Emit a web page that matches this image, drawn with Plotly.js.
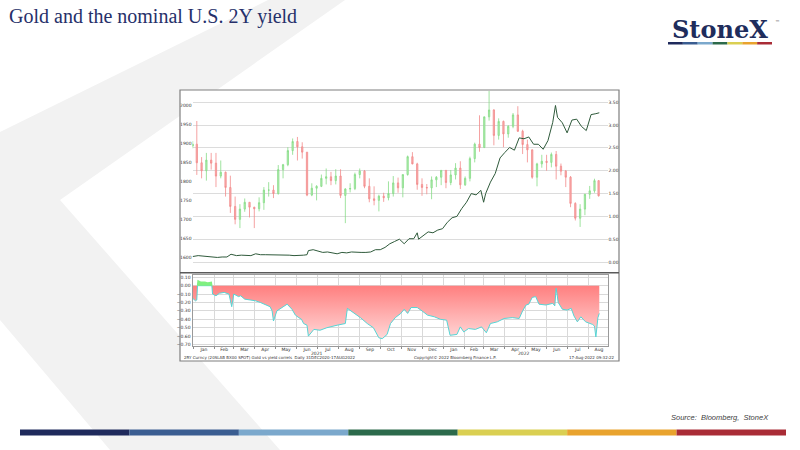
<!DOCTYPE html>
<html>
<head>
<meta charset="utf-8">
<script src="https://cdn.plot.ly/plotly-3.0.1.min.js"></script>
<style>
  html, body { margin: 0; padding: 0; background: #ffffff; }
  #chart { width: 800px; height: 450px; }
</style>
</head>
<body>
<div id="chart"></div>
<script>
// ---- data ----
// gold spot, weekly candles (plotted at mid-week)
const goldDates = ['2020-12-31',
  '2021-01-06','2021-01-13','2021-01-20','2021-01-27','2021-02-03','2021-02-10','2021-02-17','2021-02-24',
  '2021-03-03','2021-03-10','2021-03-17','2021-03-24','2021-03-31','2021-04-07','2021-04-14','2021-04-21',
  '2021-04-28','2021-05-05','2021-05-12','2021-05-19','2021-05-26','2021-06-02','2021-06-09','2021-06-16',
  '2021-06-23','2021-06-30','2021-07-07','2021-07-14','2021-07-21','2021-07-28','2021-08-04','2021-08-11',
  '2021-08-18','2021-08-25','2021-09-01','2021-09-08','2021-09-15','2021-09-22','2021-09-29','2021-10-06',
  '2021-10-13','2021-10-20','2021-10-27','2021-11-03','2021-11-10','2021-11-17','2021-11-24','2021-12-01',
  '2021-12-08','2021-12-15','2021-12-22','2021-12-29',
  '2022-01-05','2022-01-12','2022-01-19','2022-01-26','2022-02-02','2022-02-09','2022-02-16','2022-02-23',
  '2022-03-02','2022-03-09','2022-03-16','2022-03-23','2022-03-30','2022-04-06','2022-04-13','2022-04-20',
  '2022-04-27','2022-05-04','2022-05-11','2022-05-18','2022-05-25','2022-06-01','2022-06-08','2022-06-15',
  '2022-06-22','2022-06-29','2022-07-06','2022-07-13','2022-07-20','2022-07-27','2022-08-03','2022-08-10',
  '2022-08-16'];
const goldOpen = [1893,
  1898,1849,1828,1856,1848,1814,1824,1784, 1734,1700,1727,1745,1732,1728,1744,1777,
  1777,1768,1831,1844,1881,1905,1891,1877, 1764,1782,1787,1808,1812,1802,1814,1763,
  1780,1781,1818,1827,1787,1754,1750,1761, 1757,1768,1796,1783,1818,1865,1846,1792,
  1784,1783,1804,1811,
  1829,1797,1817,1835,1791,1808,1860,1898, 1889,1970,1988,1921,1958,1925,1945,1975,
  1932,1897,1883,1811,1846,1853,1850,1871, 1840,1827,1811,1742,1703,1727,1766,1775,
  1802];
const goldHigh = [1906,
  1959,1864,1875,1875,1875,1855,1826,1815, 1760,1740,1755,1745,1733,1758,1785,1798,
  1790,1843,1846,1890,1913,1917,1903,1877, 1795,1790,1818,1834,1825,1832,1832,1782,
  1795,1823,1834,1830,1808,1787,1765,1770, 1800,1814,1810,1818,1868,1877,1849,1808,
  1793,1813,1814,1830,
  1830,1830,1848,1853,1813,1865,1902,1974, 1970,2070,1990,1966,1960,1948,1980,1998,
  1936,1910,1884,1849,1870,1870,1876,1880, 1847,1830,1814,1745,1740,1767,1788,1807,
  1802];
const goldLow = [1887,
  1817,1808,1802,1831,1785,1808,1760,1717, 1687,1677,1720,1705,1677,1721,1725,1760,
  1756,1765,1808,1840,1870,1855,1860,1761, 1761,1750,1785,1792,1790,1792,1756,1690,
  1771,1777,1808,1782,1745,1737,1721,1746, 1750,1760,1770,1758,1815,1845,1778,1762,
  1766,1753,1785,1790,
  1782,1790,1805,1780,1788,1800,1850,1878, 1889,1960,1895,1910,1890,1915,1940,1930,
  1872,1850,1807,1787,1836,1828,1837,1805, 1816,1785,1732,1697,1680,1711,1754,1770,
  1760];
const goldClose = [1898,
  1849,1828,1856,1848,1814,1824,1784,1734, 1700,1727,1745,1732,1728,1744,1777,1777,
  1768,1831,1844,1881,1905,1891,1877,1764, 1782,1787,1808,1812,1802,1814,1763,1780,
  1781,1818,1827,1787,1754,1750,1761,1757, 1768,1796,1783,1818,1865,1846,1792,1784,
  1783,1804,1811,1829,
  1797,1817,1835,1791,1808,1860,1898,1889, 1970,1988,1921,1958,1925,1945,1975,1932,
  1897,1883,1811,1846,1853,1850,1871,1840, 1827,1811,1742,1703,1727,1766,1775,1802,
  1762];

// nominal U.S. 2Y yield (right axis)
const yieldDates = ['2020-12-31','2021-01-08','2021-01-15','2021-01-22','2021-01-29','2021-02-05','2021-02-12',
  '2021-02-19','2021-02-25','2021-03-05','2021-03-12','2021-03-19','2021-03-26','2021-04-02','2021-04-09',
  '2021-04-16','2021-04-23','2021-04-30','2021-05-07','2021-05-14','2021-05-21','2021-05-28','2021-06-04',
  '2021-06-11','2021-06-16','2021-06-18','2021-06-25','2021-07-02','2021-07-09','2021-07-16','2021-07-23',
  '2021-07-30','2021-08-06','2021-08-13','2021-08-20','2021-08-27','2021-09-03','2021-09-10','2021-09-17',
  '2021-09-24','2021-10-01','2021-10-08','2021-10-15','2021-10-22','2021-10-29','2021-11-05','2021-11-12',
  '2021-11-19','2021-11-24','2021-11-26','2021-12-03','2021-12-10','2021-12-17','2021-12-24','2021-12-31',
  '2022-01-07','2022-01-14','2022-01-21','2022-01-28','2022-02-04','2022-02-11','2022-02-18','2022-02-25',
  '2022-03-01','2022-03-04','2022-03-11','2022-03-18','2022-03-25','2022-04-01','2022-04-08','2022-04-15',
  '2022-04-22','2022-04-29','2022-05-06','2022-05-13','2022-05-20','2022-05-27','2022-06-03','2022-06-10',
  '2022-06-14','2022-06-17','2022-06-24','2022-07-01','2022-07-08','2022-07-15','2022-07-22','2022-07-29',
  '2022-08-05','2022-08-12','2022-08-17'];
const yieldValues = [0.12,0.14,0.13,0.12,0.11,0.10,0.11,
  0.11,0.17,0.14,0.15,0.15,0.14,0.18,0.16,
  0.16,0.16,0.16,0.15,0.15,0.15,0.14,0.14,
  0.15,0.16,0.25,0.27,0.24,0.21,0.22,0.20,
  0.18,0.21,0.20,0.22,0.21,0.21,0.21,0.22,
  0.27,0.27,0.32,0.40,0.45,0.50,0.40,0.51,
  0.51,0.64,0.50,0.59,0.66,0.64,0.70,0.73,
  0.87,0.97,1.00,1.17,1.31,1.50,1.47,1.57,
  1.31,1.50,1.75,1.94,2.28,2.40,2.51,2.45,
  2.72,2.70,2.74,2.58,2.58,2.47,2.66,3.06,
  3.43,3.17,3.05,2.83,3.11,3.13,2.97,2.88,
  3.23,3.25,3.27];

// gold vs yield correlation (lower panel)
const corrDates = ['2020-12-31','2021-01-04','2021-01-06','2021-01-07','2021-01-12','2021-01-18','2021-01-22',
  '2021-01-28','2021-01-29','2021-02-03','2021-02-08','2021-02-15','2021-02-22','2021-02-26','2021-03-01',
  '2021-03-08','2021-03-11','2021-03-17','2021-03-25','2021-04-02','2021-04-09','2021-04-16','2021-04-23',
  '2021-04-26','2021-04-28','2021-05-03','2021-05-08','2021-05-13','2021-05-18','2021-05-25','2021-05-30',
  '2021-06-04','2021-06-08','2021-06-11','2021-06-16','2021-06-18','2021-06-26','2021-07-05','2021-07-15',
  '2021-07-30','2021-08-11','2021-08-14','2021-08-23','2021-09-02','2021-09-12','2021-09-21','2021-09-29',
  '2021-10-04','2021-10-11','2021-10-16','2021-10-23','2021-10-31','2021-11-05','2021-11-10','2021-11-15',
  '2021-11-24','2021-12-01','2021-12-09','2021-12-19','2021-12-28','2022-01-06','2022-01-11','2022-01-21',
  '2022-01-26','2022-01-31','2022-02-07','2022-02-17','2022-02-26','2022-03-05','2022-03-11','2022-03-21',
  '2022-03-31','2022-04-12','2022-04-22','2022-04-27','2022-05-02','2022-05-06','2022-05-11','2022-05-16',
  '2022-05-21','2022-05-31','2022-06-10','2022-06-13','2022-06-15','2022-06-18','2022-06-24','2022-07-01',
  '2022-07-07','2022-07-11','2022-07-16','2022-07-21','2022-07-28','2022-08-07','2022-08-10','2022-08-12',
  '2022-08-15','2022-08-17'];
const corrValues = [-0.15,-0.18,-0.17,0.07,0.05,0.05,0.04,
  0.05,-0.10,-0.12,-0.09,-0.08,-0.10,-0.25,-0.10,
  -0.13,-0.12,-0.16,-0.17,-0.18,-0.20,-0.23,-0.25,
  -0.30,-0.42,-0.30,-0.27,-0.25,-0.22,-0.28,-0.35,
  -0.38,-0.40,-0.45,-0.47,-0.60,-0.52,-0.53,-0.50,
  -0.47,-0.45,-0.27,-0.32,-0.38,-0.45,-0.50,-0.62,
  -0.63,-0.58,-0.45,-0.38,-0.33,-0.28,-0.33,-0.26,
  -0.26,-0.30,-0.35,-0.37,-0.40,-0.41,-0.59,-0.58,
  -0.49,-0.55,-0.51,-0.52,-0.49,-0.56,-0.45,-0.43,
  -0.39,-0.38,-0.39,-0.30,-0.23,-0.22,-0.14,-0.13,
  -0.22,-0.23,-0.21,-0.24,-0.03,-0.20,-0.28,-0.29,
  -0.27,-0.36,-0.43,-0.37,-0.43,-0.46,-0.48,-0.61,
  -0.38,-0.33];

const goldTicks = [1600, 1650, 1700, 1750, 1800, 1850, 1900, 1950, 2000];
const yieldTicks = [0, 0.5, 1, 1.5, 2, 2.5, 3, 3.5];
const corrTicks = [-0.7, -0.6, -0.5, -0.4, -0.3, -0.2, -0.1, 0, 0.1];
const yearLabels = ['2021', '2022'];
const yearPos = ['2021-07-01', '2022-04-29'];
const logoColors = ['#1f2a5c', '#3a5d91', '#7ba8cc', '#2c6a4b', '#dacf52', '#e9a32e', '#a92c36'];

// ---- helpers: page pixels -> paper fractions ----
const W = 800, H = 450;
const px = x => x / W;
const py = y => 1 - y / H;
function poly(pts) {
  return 'M' + pts.map(p => px(p[0]).toFixed(4) + ',' + py(p[1]).toFixed(4)).join(' L') + ' Z';
}

const xRange = ['2020-12-30 17:00', '2022-08-29'];
const xDom = [px(192.5), px(607.5)];
const tickFont = {family: 'DejaVu Sans', size: 4.5, color: '#333333'};

const negVals = corrValues.map(v => Math.min(v, 0));
const posVals = corrValues.map(v => Math.max(v, 0));

const traces = [
  {
    type: 'candlestick',
    x: goldDates, open: goldOpen, high: goldHigh, low: goldLow, close: goldClose,
    xaxis: 'x', yaxis: 'y',
    increasing: {line: {color: '#86dc86', width: 0.8}, fillcolor: '#b4eeb4'},
    decreasing: {line: {color: '#f28a8a', width: 0.8}, fillcolor: '#f8b0b0'},
    showlegend: false, hoverinfo: 'skip'
  },
  {
    type: 'scatter', mode: 'lines',
    x: yieldDates, y: yieldValues,
    xaxis: 'x', yaxis: 'y3',
    line: {color: '#2f5a3b', width: 1},
    showlegend: false, hoverinfo: 'skip'
  },
  {
    type: 'scatter', mode: 'lines',
    x: corrDates, y: negVals,
    xaxis: 'x2', yaxis: 'y2',
    fill: 'tozeroy',
    fillgradient: {type: 'vertical', start: -0.72, stop: 0,
      colorscale: [[0, '#ffe4e4'], [1, '#ff7f7f']]},
    line: {color: '#55d5d5', width: 1},
    showlegend: false, hoverinfo: 'skip'
  },
  {
    type: 'scatter', mode: 'lines',
    x: corrDates, y: posVals,
    xaxis: 'x2', yaxis: 'y2',
    fill: 'tozeroy', fillcolor: '#80f080',
    line: {color: '#80f080', width: 0},
    showlegend: false, hoverinfo: 'skip'
  }
];

const shapes = [
  // grey chevron in the background
  {type: 'path', xref: 'paper', yref: 'paper', layer: 'below',
   path: poly([[268, 0], [345, 0], [60, 200], [280, 450], [110, 450], [0, 320], [0, 132]]),
   fillcolor: '#f2f2f2', line: {width: 0}},
  // white chart card
  {type: 'rect', xref: 'paper', yref: 'paper', layer: 'below',
   x0: px(180), x1: px(619), y0: py(361), y1: py(90),
   fillcolor: '#ffffff', line: {width: 0}},
  {type: 'rect', xref: 'paper', yref: 'paper', layer: 'above',
   x0: px(180), x1: px(619), y0: py(361), y1: py(90),
   line: {color: '#7f7f7f', width: 1.2}},
  {type: 'line', xref: 'paper', yref: 'paper', layer: 'above',
   x0: px(180), x1: px(619), y0: py(272.7), y1: py(272.7),
   line: {color: '#5a5a5a', width: 1.5}}
];

// colour strip under the logo and along the bottom of the slide
logoColors.forEach((c, i) => {
  const lw = (772 - 668) / logoColors.length;
  shapes.push({type: 'rect', xref: 'paper', yref: 'paper', layer: 'above',
    x0: px(668 + i * lw), x1: px(668 + (i + 1) * lw), y0: py(44.5), y1: py(42),
    fillcolor: c, line: {width: 0}});
  const bw = (786 - 20) / logoColors.length;
  shapes.push({type: 'rect', xref: 'paper', yref: 'paper', layer: 'above',
    x0: px(20 + i * bw), x1: px(20 + (i + 1) * bw), y0: py(435.5), y1: py(429.5),
    fillcolor: c, line: {width: 0}});
});

const annotations = [
  {xref: 'paper', yref: 'paper', x: px(7), y: py(16), xanchor: 'left', yanchor: 'middle',
   text: 'Gold and the nominal U.S. 2Y yield', showarrow: false,
   font: {family: 'Liberation Serif', size: 20, color: '#26306a'}},
  {xref: 'paper', yref: 'paper', x: px(719.5), y: py(29.5), xanchor: 'center', yanchor: 'middle',
   text: '<b>StoneX</b>', showarrow: false,
   font: {family: 'DejaVu Serif', size: 24, color: '#1f2d5c'}},
  {xref: 'paper', yref: 'paper', x: px(773), y: py(22), xanchor: 'left', yanchor: 'middle',
   text: '™', showarrow: false, font: {family: 'DejaVu Sans', size: 5, color: '#555555'}},
  {xref: 'paper', yref: 'paper', x: px(771), y: py(417), xanchor: 'right', yanchor: 'middle',
   text: '<i>Source:  Bloomberg,  StoneX</i>', showarrow: false,
   font: {family: 'Liberation Sans', size: 7.5, color: '#404040'}},
  {xref: 'paper', yref: 'paper', x: px(181.5), y: py(357.8), xanchor: 'left', yanchor: 'middle',
   text: '2RY Curncy (20SLAB BX00 SPOT) Gold vs yield correls  Daily 31DEC2020-17AUG2022', showarrow: false,
   font: {family: 'DejaVu Sans', size: 4, color: '#333333'}},
  {xref: 'paper', yref: 'paper', x: px(455), y: py(357.8), xanchor: 'center', yanchor: 'middle',
   text: 'Copyright© 2022 Bloomberg Finance L.P.', showarrow: false,
   font: {family: 'DejaVu Sans', size: 4, color: '#333333'}},
  {xref: 'paper', yref: 'paper', x: px(617), y: py(357.8), xanchor: 'right', yanchor: 'middle',
   text: '17-Aug-2022 09:32:22', showarrow: false,
   font: {family: 'DejaVu Sans', size: 4, color: '#333333'}}
];
yearLabels.forEach((t, i) => {
  annotations.push({xref: 'x2', yref: 'paper', x: yearPos[i], y: py(353.8),
    xanchor: 'center', yanchor: 'middle', text: t, showarrow: false, font: tickFont});
});

const layout = {
  width: W, height: H,
  margin: {l: 0, r: 0, t: 0, b: 0},
  paper_bgcolor: '#ffffff',
  plot_bgcolor: '#ffffff',
  showlegend: false,
  boxgap: 0.55,
  xaxis: {
    domain: xDom, anchor: 'y', type: 'date', range: xRange,
    showticklabels: false, showgrid: false, zeroline: false, ticks: '',
    rangeslider: {visible: false}, fixedrange: true
  },
  yaxis: {
    domain: [py(271), py(91)], anchor: 'x', range: [1564, 2038],
    tickvals: goldTicks, tickfont: tickFont, showgrid: false, zeroline: false,
    ticks: '', fixedrange: true
  },
  yaxis3: {
    overlaying: 'y', side: 'right', anchor: 'x', range: [-0.197, 3.747],
    tickvals: yieldTicks, tickformat: '.2f', tickfont: tickFont,
    showgrid: true, gridcolor: '#dcdcdc', gridwidth: 1, zeroline: false,
    ticks: '', fixedrange: true
  },
  xaxis2: {
    domain: xDom, anchor: 'y2', type: 'date', range: xRange,
    dtick: 'M1', tick0: '2021-01-01', ticklabelmode: 'period', tickformat: '%b',
    tickfont: tickFont, ticks: 'outside', ticklen: 2, tickcolor: '#8c8c8c',
    ticklabelstandoff: -4,
    showgrid: true, gridcolor: '#d9d9d9', gridwidth: 1, zeroline: false,
    showline: true, mirror: true, linecolor: '#9a9a9a', linewidth: 1, fixedrange: true
  },
  yaxis2: {
    domain: [py(346.3), py(274.5)], anchor: 'x2', range: [-0.721, 0.133],
    tickvals: corrTicks, tickformat: '.2f', tickfont: tickFont,
    showgrid: true, gridcolor: '#d9d9d9', gridwidth: 1, zeroline: false,
    showline: true, mirror: true, linecolor: '#9a9a9a', linewidth: 1,
    ticks: '', fixedrange: true
  },
  shapes: shapes,
  annotations: annotations
};

Plotly.newPlot('chart', traces, layout, {displayModeBar: false, staticPlot: true});
</script>
</body>
</html>
